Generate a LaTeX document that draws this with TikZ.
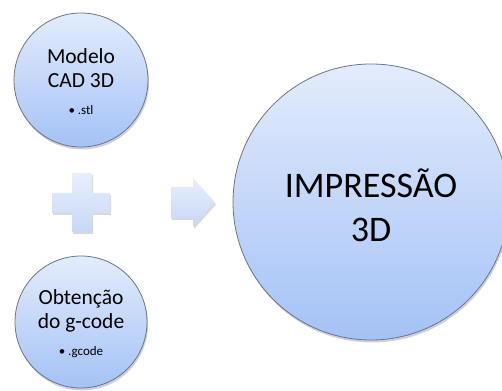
\documentclass[tikz,border=0pt]{standalone}
\usepackage{fontspec}
\setmainfont{Carlito}
\usetikzlibrary{shadows}
\definecolor{ctop}{HTML}{E3ECFC}
\definecolor{cbot}{HTML}{A4C2F6}
\definecolor{cline}{HTML}{6B7585}
\definecolor{stop}{HTML}{E8EFFC}
\definecolor{sbot}{HTML}{C6D7F7}
\tikzset{
  ball/.style={circle, draw=cline, line width=0.8pt, top color=ctop, bottom color=cbot,
    drop shadow={shadow xshift=1pt, shadow yshift=-2.5pt, opacity=0.3, fill=black!60},
    align=center, inner sep=0pt, text=black},
  glyph/.style={top color=stop, bottom color=sbot, draw=none,
    drop shadow={shadow xshift=1pt, shadow yshift=-2pt, opacity=0.25, fill=black!60}},
  bigtxt/.style={font=\fontsize{21.5}{24}\selectfont},
  smalltxt/.style={font=\fontsize{13}{15}\selectfont}
}
\begin{document}
\begin{tikzpicture}[x=1pt,y=1pt]
\useasboundingbox (0,0) rectangle (502,390);
% top circle
\node[ball, minimum size=134pt] (cad) at (81,310) {};
\node[bigtxt, align=center] (cadt) at (81,322) {Modelo\\CAD 3D};
\node[smalltxt] (stl) at (81,280) {• .stl};
% bottom circle
\node[ball, minimum size=132pt] (gc) at (81,68) {};
\node[bigtxt, align=center] (gct) at (81,79) {Obtenção\\do g-code};
\node[smalltxt] (gcode) at (81,38) {• .gcode};
% big circle
\node[ball, minimum size=276pt] (imp) at (371,188) {};
\node[font=\fontsize{36}{44}\selectfont, align=center] (impt) at (371,185) {IMPRESSÃO\\3D};
% plus
\path[glyph] (72,217) -- (92,217) -- (92,197) -- (110,197) -- (110,177) -- (92,177)
  -- (92,158) -- (72,158) -- (72,177) -- (52,177) -- (52,197) -- (72,197) -- cycle;
% arrow
\path[glyph] (171,203) -- (193,203) -- (193,212) -- (215,187.5) -- (193,163)
  -- (193,172) -- (171,172) -- cycle;
\end{tikzpicture}
\end{document}
